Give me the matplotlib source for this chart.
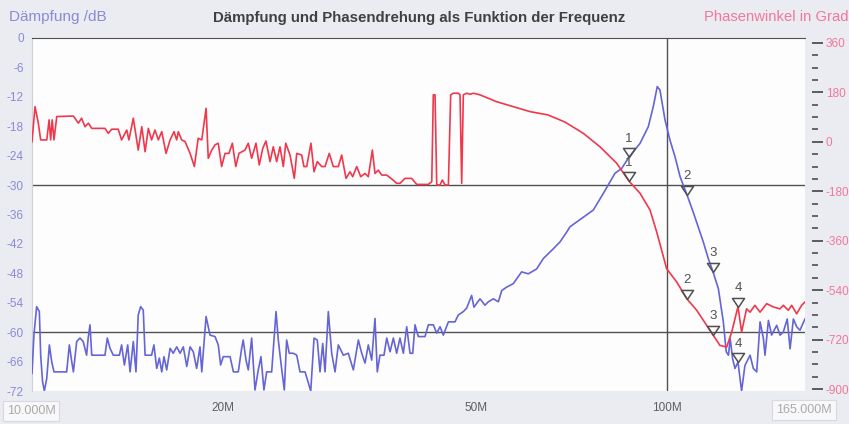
import matplotlib
matplotlib.use('Agg')
import matplotlib.pyplot as plt
from matplotlib.path import Path
from matplotlib.ticker import FixedLocator, NullLocator

# Frequenz in MHz, Daempfung in dB (blau)
blue_f = [10.0, 10.07, 10.17, 10.27, 10.32, 10.39, 10.46, 10.55, 10.65, 10.74, 10.83,
          11.34, 11.45, 11.55, 11.62, 11.76, 11.90, 12.04, 12.19, 12.26, 12.34, 12.42,
          13.03, 13.14, 13.27, 13.43, 13.73, 13.84, 13.98, 14.15, 14.27, 14.44, 14.58,
          14.70, 14.83, 14.97, 15.07, 15.43, 15.56, 15.72, 15.87, 16.01, 16.14, 16.30,
          16.50, 16.69, 16.90, 17.11, 17.31, 17.53, 17.74, 17.95, 18.17, 18.39, 18.51,
          18.80, 19.07, 19.42, 19.65, 19.82, 20.01, 20.51, 20.76, 21.13, 21.39,
          21.51, 21.73, 21.91, 22.18, 22.45, 22.72, 22.94, 23.19, 23.42, 23.85,
          24.23, 24.43, 24.74, 24.97, 25.18, 25.42, 25.79, 26.12, 26.43, 26.92, 27.48,
          27.81, 28.14, 28.42, 28.70, 28.94, 29.29, 29.65, 30.01, 30.37, 30.93, 31.49,
          32.07, 32.66, 33.06, 33.46, 33.86, 34.28, 34.69, 34.98, 35.32, 35.84, 36.20,
          36.64, 37.08, 37.53, 37.98, 38.45, 38.92, 39.39, 39.78, 40.11, 40.59, 41.59,
          42.10, 42.86, 43.40, 43.92, 44.45, 45.27, 46.37, 46.93,
          47.79, 48.37, 49.25, 49.67, 50.77, 51.70, 52.33, 53.29, 54.26, 54.94, 55.94,
          57.28, 59.05, 60.48, 62.35, 63.86, 66.22, 67.85, 69.52, 70.37,
          76.56, 79.40, 82.83, 84.87, 87.15, 90.70, 93.47, 95.17, 96.56, 97.51,
          99.31, 101.1, 102.97, 104.9, 107.55, 110.0, 114.1, 116.2, 118.2, 120.5,
          122.7, 124.0, 125.0, 125.8, 126.9, 128.0, 129.4, 131.1, 132.7, 135.2,
          136.8, 138.5, 140.2, 141.9, 142.7, 144.5, 146.2, 148.9, 150.7, 152.5,
          154.7, 156.3, 158.2, 160.1, 162.0, 165.0]
blue_db = [-68.4, -60.6, -54.8, -55.8, -64.7, -70.1, -72, -69.4, -62.6, -66.0, -68.1,
           -68.1, -62.6, -66.0, -68.1, -61.9, -61.2, -61.9, -64.7, -61.2, -58.5, -64.7,
           -64.7, -61.2, -63.3, -64.7, -64.7, -62.6, -66.7, -62.6, -68.1, -61.9, -68.1,
           -56.5, -54.8, -55.5, -64.7, -64.7, -62.6, -67.4, -65.3, -68.1, -65.0, -67.7,
           -63.3, -64.3, -63.0, -64.3, -63.0, -67.0, -63.0, -64.0, -67.4, -63.0, -68.1,
           -56.8, -60.6, -60.9, -62.6, -66.7, -65.0, -65.0, -68.1, -68.1, -63.3,
           -61.6, -65.7, -67.7, -61.2, -71.8, -67.7, -65.0, -71.8, -68.1, -68.1,
           -55.8, -61.6, -67.7, -71.8, -61.6, -64.3, -64.3, -64.7, -68.1, -68.1, -72,
           -61.2, -61.6, -68.1, -62.3, -68.1, -55.8, -64.3, -68.1, -62.6, -64.7, -64.3,
           -67.7, -61.6, -64.3, -66.3, -62.6, -65.7, -57.2, -68.1, -64.7, -64.7, -61.2,
           -64.0, -61.2, -64.3, -61.2, -64.3, -58.9, -64.3, -64.3, -58.5, -60.9, -60.9,
           -58.5, -58.5, -60.2, -58.9, -60.6, -57.9, -57.9, -56.5,
           -55.8, -55.1, -52.5, -54.9, -53.2, -54.5, -53.8, -53.2, -53.8, -51.5, -50.8,
           -50.1, -47.7, -48.1, -47.1, -45.0, -43.0, -41.6, -39.6, -38.5,
           -35.1, -31.7, -27.6, -26.6, -24.3, -21.5, -18.1, -14.0, -9.9, -10.6,
           -16.7, -20.8, -24.2, -28.3, -32.0, -35.5, -41.6, -45.0, -47.7, -51.1,
           -57.9, -64.0, -64.7, -61.3, -65.4, -67.4, -66.1, -72, -66.8, -64.7,
           -67.4, -68.1, -57.9, -61.3, -64.7, -57.6, -60.6, -58.6, -60.6, -60.0,
           -57.3, -63.4, -57.3, -58.9, -59.6, -57.3]

# Frequenz in MHz, Phasenwinkel in Grad (rot)
red_f = [10.0, 10.11, 10.23, 10.32, 10.55, 10.64, 10.70, 10.76, 10.83, 10.94,
         11.62, 11.83, 11.97, 12.12, 12.27, 12.42, 13.03, 13.19, 13.35, 13.67,
         13.84, 14.10, 14.21, 14.44, 14.70, 14.89, 15.07, 15.25, 15.43, 15.62,
         15.81, 16.01, 16.26, 16.50, 16.74, 16.90, 17.00, 17.21, 17.42, 17.74,
         18.02, 18.27, 18.51, 18.80, 18.95, 19.19, 19.42, 19.65, 19.89, 20.14,
         20.43, 20.68, 20.94, 21.18, 21.65, 21.91,
         22.18, 22.53, 22.80, 23.09, 23.36, 23.71, 23.99, 24.29, 24.58, 24.88,
         25.10, 25.49, 25.89, 26.12, 26.59, 26.81, 27.08, 27.50, 27.81, 28.14,
         28.60, 28.94, 29.39, 29.82, 30.37, 30.74, 31.23, 31.69, 32.00, 32.47,
         32.94, 33.46, 33.86, 34.36, 34.69, 35.11, 35.55, 36.20, 36.86, 37.53,
         37.98, 38.68, 39.63, 40.36, 42.10, 42.62, 42.86, 43.13, 43.40, 43.92,
         44.29, 44.73, 45.27, 45.65, 46.08, 46.93, 47.22, 47.51, 47.79, 48.37,
         48.96, 49.55,
         50.77, 53.94, 57.28, 60.87, 64.96, 69.10, 73.84, 78.45, 83.35, 87.15,
         90.70, 94.05, 96.36, 99.91, 103.6, 107.55, 111.4, 115.5, 118.2, 121.2,
         124.2, 126.5, 129.4, 131.1, 133.5, 135.2, 137.6, 140.2, 143.6, 147.1,
         150.7, 152.5, 155.3, 157.2, 160.1, 163.0, 165.0]
red_deg = [0, 128, 69, 7, 7, 80, 7, 80, 7, 92,
           94, 68, 86, 55, 68, 49, 49, 31, 46, 46,
           7, 43, 7, 86, -30, 55, -36, 49, 7, 43,
           7, 37, -42, 7, 37, 7, 37, 7, 1, -42,
           -90, 13, 7, 122, -60, -30, -11, -5, -90, -42,
           -42, -5, -90, -42, -30, -5,
           -60, -5, -84, -24, 3, -72, -18, -72, -18, -90,
           -5, -48, -133, -42, -48, -90, -90, -5, -109, -72,
           -90, -90, -42, -90, -90, -48, -133, -109, -127, -90,
           -127, -115, -127, -30, -115, -103, -121, -121, -135, -151,
           -151, -133, -133, -155, -155, -145, 171, 171, -157, -157,
           -139, -157, -157, 171, 177, 177, 171, -151, 171, 177,
           173, 177,
           171, 146, 128, 110, 98, 72, 31, -18, -78, -143,
           -187, -248, -328, -462, -510, -572, -613, -668, -703, -741,
           -747, -692, -600, -692, -608, -620, -595, -620, -589, -601,
           -608, -595, -613, -595, -626, -595, -583]

# Marker 1..4
marker_f = [87.15, 107.55, 118.2, 129.4]
marker_db = [-24.3, -32.0, -47.7, -66.1]
marker_deg = [-143, -572, -703, -600]
marker_labels = ['1', '2', '3', '4']

freq_ticks = [20, 50, 100]
freq_labels = ['20M', '50M', '100M']

plt.rcParams['font.family'] = ['Liberation Sans', 'DejaVu Sans']
plt.rcParams['axes.unicode_minus'] = False

W, H = 849, 424
fig = plt.figure(figsize=(W / 100, H / 100), dpi=100, facecolor='#ebebf2')
ax = fig.add_axes([32 / W, 1 - 391 / H, (805 - 32) / W, (391 - 38) / H])
ax.set_facecolor('#fdfdfe')

ax.set_xscale('log')
ax.set_xlim(10, 165)
ax.set_ylim(-72, 0)
ax.plot(blue_f, blue_db, color='#6565d6', lw=1.2, zorder=3)

ax.set_yticks(range(-72, 1, 6))
ax.tick_params(axis='y', length=0, pad=6, labelcolor='#8a8ad6', labelsize=8.5)
ax.xaxis.set_major_locator(FixedLocator(freq_ticks))
ax.xaxis.set_minor_locator(NullLocator())
ax.set_xticklabels(freq_labels)
ax.tick_params(axis='x', length=0, pad=8, labelcolor='#606060', labelsize=8.5)

for s in ['right', 'bottom']:
    ax.spines[s].set_visible(False)
ax.spines['top'].set_color('#505050')
ax.spines['left'].set_color('#d0d0d8')

ax.axhline(-30, color='#505050', lw=1, zorder=2)
ax.axhline(-60, color='#505050', lw=1, zorder=2)
ax.axvline(100, color='#505050', lw=1, zorder=2)

ax2 = ax.twinx()
ax2.set_ylim(-907, 378)
ax2.plot(red_f, red_deg, color='#f0384c', lw=1.2, zorder=3)
ax2.yaxis.set_major_locator(FixedLocator(range(-900, 361, 180)))
ax2.yaxis.set_minor_locator(FixedLocator(range(-900, 361, 45)))
for s in ax2.spines.values():
    s.set_visible(False)
ax2.spines['right'].set_position(('outward', 5))
ax2.tick_params(axis='y', which='major', length=8, width=1.3, color='#505050',
                labelcolor='#f07898', labelsize=8.5, pad=2)
ax2.tick_params(axis='y', which='minor', length=4, width=1.2, color='#505050')

# Dreieck-Marker, Spitze auf dem Messpunkt
tri = Path([(-6, 9), (6, 9), (0, 0), (-6, 9)],
           [Path.MOVETO, Path.LINETO, Path.LINETO, Path.CLOSEPOLY])
ax.plot(marker_f, marker_db, ls='none', marker=tri, ms=13, mfc='none',
        mec='#505050', mew=1.1, zorder=4)
ax2.plot(marker_f, marker_deg, ls='none', marker=tri, ms=13, mfc='none',
         mec='#505050', mew=1.1, zorder=4)
for f, d, lbl in zip(marker_f, marker_db, marker_labels):
    ax.annotate(lbl, (f, d), xytext=(0, 9), textcoords='offset points',
                ha='center', va='bottom', fontsize=9.5, color='#505050')
for f, d, lbl in zip(marker_f, marker_deg, marker_labels):
    ax2.annotate(lbl, (f, d), xytext=(0, 9), textcoords='offset points',
                 ha='center', va='bottom', fontsize=9.5, color='#505050')

fig.text(419 / W, 1 - 18 / H, 'Dämpfung und Phasendrehung als Funktion der Frequenz',
         ha='center', va='center', fontsize=10.8, fontweight='bold', color='#404040')
fig.text(9 / W, 1 - 17 / H, 'Dämpfung /dB', ha='left', va='center',
         fontsize=11, color='#8a8ad6')
fig.text(848 / W, 1 - 17 / H, 'Phasenwinkel in Grad', ha='right', va='center',
         fontsize=10.6, color='#f07898')

box = dict(boxstyle='square,pad=0.3', fc='#f8f8fa', ec='#d8d8e0', lw=0.8)
fig.text(31 / W, 1 - 411 / H, '10.000M', ha='center', va='center',
         fontsize=9, color='#aaaaaa', bbox=box)
fig.text(804 / W, 1 - 410 / H, '165.000M', ha='center', va='center',
         fontsize=9, color='#aaaaaa', bbox=box)

fig.savefig('out.png', dpi=100, facecolor=fig.get_facecolor())
